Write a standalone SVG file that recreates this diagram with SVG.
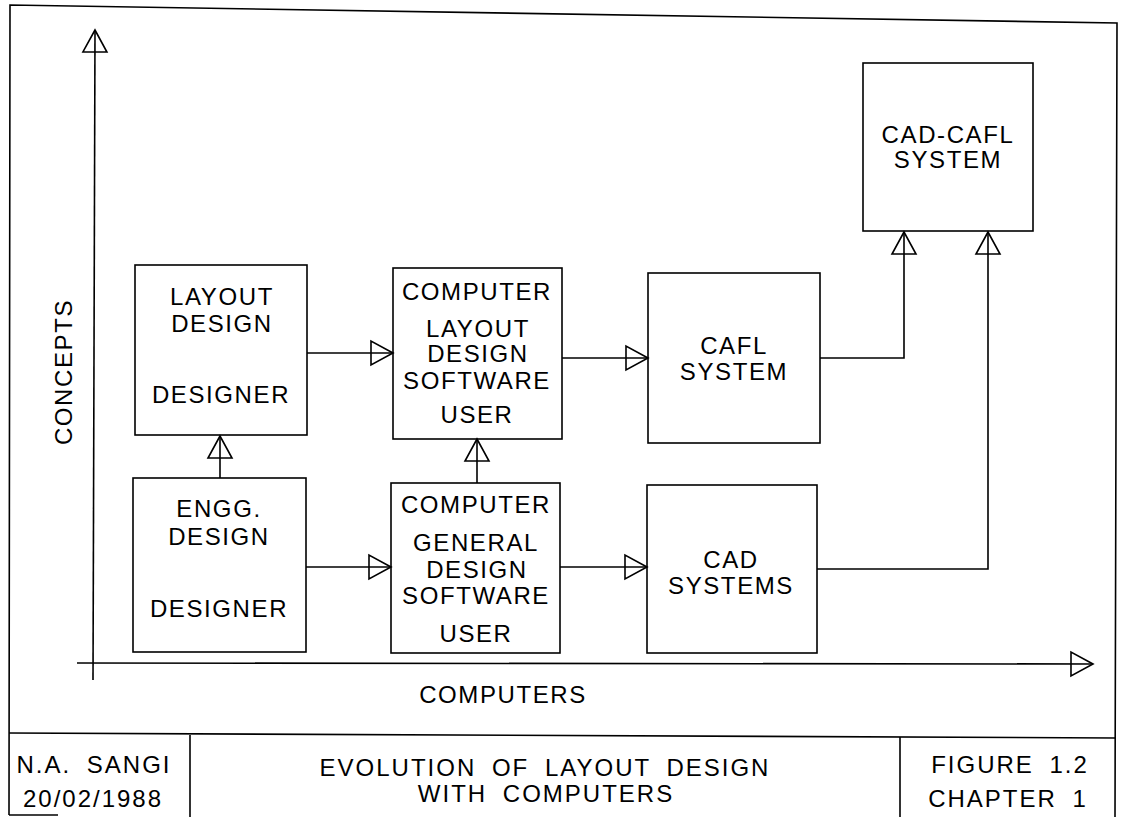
<svg xmlns="http://www.w3.org/2000/svg" width="1122" height="817" viewBox="0 0 1122 817">
  <style>
    .frame { fill: none; stroke: #000; stroke-width: 1.6; }
    .box { fill: none; stroke: #000; stroke-width: 1.6; }
    .wire { fill: none; stroke: #000; stroke-width: 1.6; marker-end: url(#tri); }
    text { font-family: "Liberation Sans", Arial, sans-serif; font-size: 24px; letter-spacing: 1.6px; fill: #000; text-anchor: middle; }
    .tb { letter-spacing: 2px; word-spacing: 7px; }
  </style>
  <defs>
    <!-- open triangular arrowhead; the line runs through to the tip -->
    <marker id="tri" viewBox="-24 -14 27 28" refX="0" refY="0" markerWidth="27" markerHeight="28" markerUnits="userSpaceOnUse" orient="auto">
      <path d="M0,0 L-22,-12 L-22,12 Z" fill="none" stroke="#000" stroke-width="1.6" stroke-linejoin="miter"/>
    </marker>
  </defs>

  <rect width="1122" height="817" fill="#fff"/>

  <!-- drawing sheet border and title block -->
  <g id="sheet">
    <path class="frame" d="M9,815 L10,5 L1117,23 L1115,817"/>
    <path class="frame" d="M9,815 L58,815"/>
    <path class="frame" d="M9,733 L1116,738"/>
    <path class="frame" d="M190,735 L190,817"/>
    <path class="frame" d="M900,737 L900,817"/>
    <text class="tb" x="94" y="773">N.A. SANGI</text>
    <text class="tb" x="93" y="807">20/02/1988</text>
    <text class="tb" x="545" y="776">EVOLUTION OF LAYOUT DESIGN</text>
    <text class="tb" x="546" y="802">WITH COMPUTERS</text>
    <text class="tb" x="1010" y="773">FIGURE 1.2</text>
    <text class="tb" x="1008" y="807">CHAPTER  1</text>
  </g>

  <!-- axes -->
  <g id="axes">
    <path class="wire" d="M93,680 L95,30"/>
    <path class="wire" d="M77,663 L1093,664"/>
    <text x="0" y="0" transform="translate(72,372) rotate(-90)">CONCEPTS</text>
    <text x="503" y="703">COMPUTERS</text>
  </g>

  <!-- connectors -->
  <g id="connectors">
    <path class="wire" d="M307,353 L393,353"/>
    <path class="wire" d="M306,567 L391,567"/>
    <path class="wire" d="M220,478 L220,436"/>
    <path class="wire" d="M477,483 L477,439"/>
    <path class="wire" d="M562,358 L648,358"/>
    <path class="wire" d="M560,567 L647,567"/>
    <path class="wire" d="M820,358 L904,358 L904,232"/>
    <path class="wire" d="M817,569 L988,569 L988,232"/>
  </g>

  <g id="layout-design">
    <rect class="box" x="135" y="265" width="172" height="170"/>
    <text x="222" y="305">LAYOUT</text>
    <text x="222" y="332">DESIGN</text>
    <text x="221" y="403">DESIGNER</text>
  </g>

  <g id="engg-design">
    <rect class="box" x="133" y="478" width="173" height="174"/>
    <text x="219" y="517">ENGG.</text>
    <text x="219" y="545">DESIGN</text>
    <text x="219" y="617">DESIGNER</text>
  </g>

  <g id="computer-layout-software">
    <rect class="box" x="393" y="268" width="169" height="171"/>
    <text x="477" y="300">COMPUTER</text>
    <text x="478" y="337">LAYOUT</text>
    <text x="478" y="362">DESIGN</text>
    <text x="477" y="389">SOFTWARE</text>
    <text x="477" y="423">USER</text>
  </g>

  <g id="computer-general-software">
    <rect class="box" x="391" y="483" width="169" height="170"/>
    <text x="476" y="513">COMPUTER</text>
    <text x="476" y="551">GENERAL</text>
    <text x="477" y="578">DESIGN</text>
    <text x="476" y="604">SOFTWARE</text>
    <text x="476" y="642">USER</text>
  </g>

  <g id="cafl-system">
    <rect class="box" x="648" y="273" width="172" height="170"/>
    <text x="734" y="354">CAFL</text>
    <text x="734" y="380">SYSTEM</text>
  </g>

  <g id="cad-systems">
    <rect class="box" x="647" y="485" width="170" height="168"/>
    <text x="731" y="568">CAD</text>
    <text x="731" y="594">SYSTEMS</text>
  </g>

  <g id="cad-cafl-system">
    <rect class="box" x="863" y="63" width="170" height="168"/>
    <text x="948" y="143">CAD-CAFL</text>
    <text x="948" y="168">SYSTEM</text>
  </g>
</svg>
